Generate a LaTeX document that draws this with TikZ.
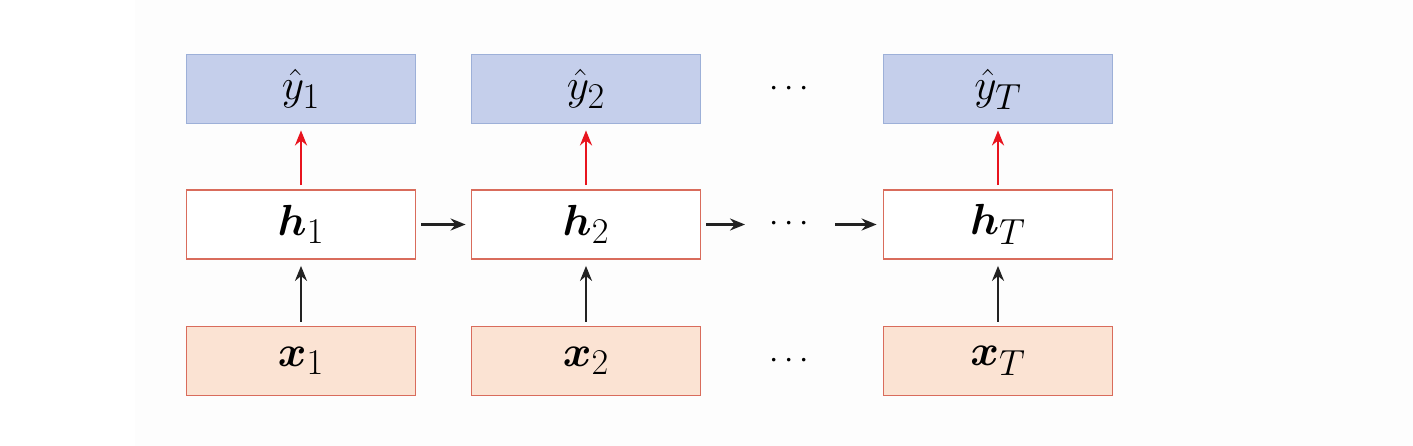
\documentclass[tikz,border=0pt]{standalone}
\usepackage{amsmath}
\usepackage{bm}
\usepackage{graphicx}
\usetikzlibrary{arrows.meta}
\definecolor{yfill}{HTML}{C5CFEB}
\definecolor{ydraw}{HTML}{9DB0D8}
\definecolor{xfill}{HTML}{FBE3D3}
\definecolor{rdraw}{HTML}{D96C5C}
\definecolor{redarrow}{HTML}{E8141E}
\definecolor{darkarrow}{HTML}{222222}
\newcommand{\bigmath}[1]{\scalebox{1.75}{\Huge$#1$}}
\newcommand{\dotmath}{\scalebox{1.35}{\Huge$\cdots$}}
\tikzset{
  cell/.style={minimum width=229pt, minimum height=69pt, inner sep=0pt, line width=1.8pt},
  ybox/.style={cell, draw=ydraw, fill=yfill},
  hbox/.style={cell, draw=rdraw, fill=white},
  xbox/.style={cell, draw=rdraw, fill=xfill},
  outarrow/.style={draw=redarrow, line width=2.6pt, -{Stealth[length=15pt,width=12pt]}},
  inarrow/.style={draw=darkarrow, line width=2.4pt, -{Stealth[length=15pt,width=12pt]}},
  dots/.style={inner sep=0pt}
}
\begin{document}
\begin{tikzpicture}[x=1pt,y=-1pt]
\useasboundingbox[fill=white] (0,0) rectangle (1413,446);
\fill[black!0.6] (135,0) rectangle (1413,446);
% top row
\node[ybox] (y1) at (301,89) {\bigmath{\hat{y}_1}};
\node[ybox] (y2) at (586,89) {\bigmath{\hat{y}_2}};
\node[ybox] (yT) at (998,89) {\bigmath{\hat{y}_T}};
\node[dots] (dy) at (792,89) {\dotmath};
% middle row
\node[hbox] (h1) at (301,224.5) {\bigmath{\bm{h}_1}};
\node[hbox] (h2) at (586,224.5) {\bigmath{\bm{h}_2}};
\node[hbox] (hT) at (998,224.5) {\bigmath{\bm{h}_T}};
\node[dots] (dh) at (792,224.5) {\dotmath};
% bottom row
\node[xbox] (x1) at (301,361) {\bigmath{\bm{x}_1}};
\node[xbox] (x2) at (586,361) {\bigmath{\bm{x}_2}};
\node[xbox] (xT) at (998,361) {\bigmath{\bm{x}_T}};
\node[dots] (dx) at (792,361) {\dotmath};
% arrows up
\foreach \c in {1,2,T}{
  \draw[outarrow] ([yshift=4pt]h\c.north) -- ([yshift=-6pt]y\c.south);
  \draw[inarrow] ([yshift=4pt]x\c.north) -- ([yshift=-6pt]h\c.south);
}
% horizontal
\coordinate (b) at (745,224.5);
\coordinate (c) at (835,224.5);
\draw[inarrow] ([xshift=5pt]h1.east) -- ([xshift=-5pt]h2.west);
\draw[inarrow] ([xshift=5pt]h2.east) -- (b);
\draw[inarrow] (c) -- ([xshift=-6pt]hT.west);
\end{tikzpicture}
\end{document}
